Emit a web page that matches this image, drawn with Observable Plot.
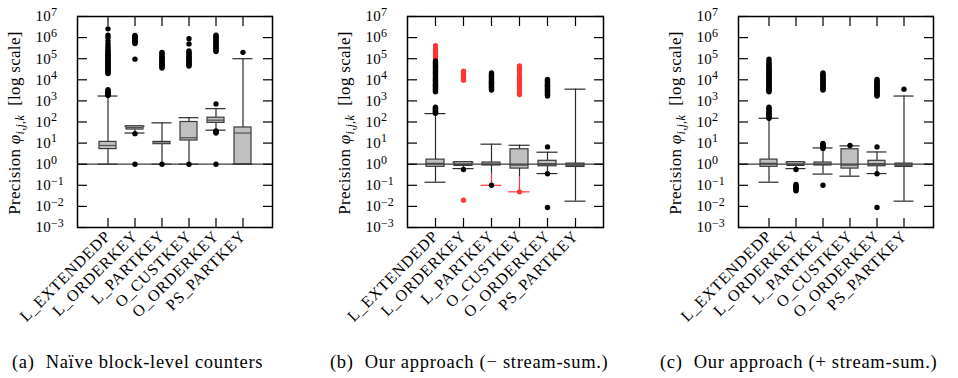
<!DOCTYPE html>
<html><head><meta charset="utf-8">
<script src="https://cdn.jsdelivr.net/npm/d3@7"></script>
<script src="https://cdn.jsdelivr.net/npm/@observablehq/plot@0.6"></script>
<style>
body{margin:0;background:#fff;}
#wrap{position:relative;width:958px;height:378px;overflow:hidden;font-family:"Liberation Serif","Times New Roman",serif;background:#fff;}
.panel{position:absolute;top:0;}
.cap{position:absolute;top:352px;font-size:18.5px;letter-spacing:0.7px;white-space:pre;line-height:20px;color:#000;}
svg g[aria-label="x-axis tick label"] text{letter-spacing:0.8px;}
svg g[aria-label="y-axis tick label"] text{letter-spacing:0.2px;}
</style></head><body><div id="wrap"></div>
<script>
const categories = ["L_EXTENDEDP","L_ORDERKEY","L_PARTKEY","O_CUSTKEY","O_ORDERKEY","PS_PARTKEY"];
const decadeExponents = [-3,-2,-1,0,1,2,3,4,5,6,7];
const captions = ["(a)", "Naïve block-level counters", "(b)", "Our approach (− stream-sum.)", "(c)", "Our approach (+ stream-sum.)"];

// (a) Naive block-level counters
const naiveLow    = [1, 30, 1, 1, 41, 1];
const naiveQ1     = [5.2, 44, 8.9, 13.3, 91, 1];
const naiveMedian = [7.7, 55, 10, 18, 122, 30];
const naiveQ3     = [11.4, 63, 11.4, 100, 160, 55];
const naiveHigh   = [1700, 63, 91, 160, 430, 100000];
const naiveOutliers = [
  [1800,1950,2100,2300,2500,2700,3000,3400,20000,22000,24000,27000,30000,34000,38000,43000,48000,54000,60000,68000,76000,85000,95000,110000,125000,140000,160000,185000,210000,250000,300000,380000,500000,700000,1000000,1300000,2600000],
  [1,28,95000,520000,580000,650000,720000,800000,880000,960000,1050000,1150000,1250000],
  [1,36000,40000,45000,50000,56000,63000,70000,80000,90000,100000,115000,130000,150000,175000,200000],
  [1,45000,50000,56000,63000,70000,80000,90000,100000,115000,130000,150000,175000,200000,230000,500000,880000],
  [1,30,33,36,38,720,220000,250000,290000,330000,380000,440000,500000,580000,670000,770000,880000,1000000,1150000,1300000],
  [200000]
];

// (b) Our approach (- stream-sum.)
const minusLow    = [0.14, 0.62, 0.36, 0.25, 0.36, 0.0177];
const minusRedLow = [null, null, 0.1, 0.049, null, null];
const minusQ1     = [0.75, 0.83, 0.87, 0.62, 0.8, 0.74];
const minusMedian = [1.1, 1.0, 1.0, 0.9, 1.05, 0.88];
const minusQ3     = [1.65, 1.25, 1.2, 5.1, 1.45, 1.07];
const minusHigh   = [250, 1.25, 8.9, 7.9, 3.7, 3600];
const minusOutliers = [
  [260,290,320,360,400,450,500,2700,3000,3400,3800,4300,4900,5500,6200,7000,8000,9000,10000,11500,13000,15000,17000,19500,22000,25000,29000,33000,38000,44000,50000,58000,67000,78000],
  [0.56],
  [0.1,3300,3700,4200,4700,5300,6000,6800,7600,8600,9700,11000,12500,14000,16000,18000,21000],
  [],
  [0.0089,0.35,6.6,1700,1900,2100,2400,2700,3000,3400,3800,4300,4900,5500,6200,7000,8000,9000,10500],
  []
];
const minusRedOutliers = [
  [100000,112000,125000,140000,160000,185000,215000,250000,300000,420000],
  [0.0197,9500,10500,11500,12500,14000,15500,17000,19000,21000,23500,26000],
  [],
  [0.049,2000,2300,2600,3000,3400,3900,4500,5200,6000,7000,8000,9300,11000,13000,18000,26000,35000,46000],
  [],
  []
];

// (c) Our approach (+ stream-sum.)
const plusLow    = [0.14, 0.62, 0.34, 0.27, 0.36, 0.0177];
const plusQ1     = [0.75, 0.83, 0.87, 0.62, 0.8, 0.74];
const plusMedian = [1.1, 1.0, 1.0, 0.9, 1.05, 0.88];
const plusQ3     = [1.65, 1.25, 1.2, 5.1, 1.45, 1.07];
const plusHigh   = [150, 1.25, 5.9, 7.4, 3.8, 1700];
const plusOutliers = [
  [150,170,190,215,245,280,320,370,430,500,2700,3000,3400,3800,4300,4900,5500,6200,7000,8000,9000,10000,11500,13000,15000,17000,19500,22000,25000,29000,33000,38000,44000,52000,62000,75000,95000],
  [0.055,0.062,0.07,0.078,0.087,0.097,0.11,0.56],
  [0.1,5.6,6.3,7.0,7.8,8.7,9.6,3300,3700,4200,4700,5300,6000,6800,7600,8600,9700,11000,12500,14000,16000,18000,21000],
  [7.7],
  [0.0089,0.35,6.6,1700,1900,2100,2400,2700,3000,3400,3800,4300,4900,5500,6200,7000,8000,9000,10500],
  [3600]
];

const FONT = '"Liberation Serif","Times New Roman",serif';
const INK = "#2a2a2a", RED = "#ff3535", BOXFILL = "#c0c0c0", BOXSTROKE = "#3a3a3a";

function makePanel(s, L) {
  const boxes = categories.map((c, i) => ({cat: c, low: s.low[i], q1: s.q1[i], med: s.med[i], q3: s.q3[i], high: s.high[i], redLow: s.redLow ? s.redLow[i] : null}));
  const reds = boxes.filter(d => d.redLow != null);
  const plain = boxes.filter(d => d.redLow == null);
  const black = [], red = [];
  categories.forEach((c, i) => s.out[i].forEach(v => black.push({cat: c, v})));
  if (s.redOut) categories.forEach((c, i) => s.redOut[i].forEach(v => red.push({cat: c, v})));
  const decades = decadeExponents.map(e => Math.pow(10, e));
  const svg = Plot.plot({
    width: L.width, height: 340,
    marginLeft: L.ml, marginRight: L.mr, marginTop: 16, marginBottom: 113,
    style: {fontFamily: FONT, fontSize: "15px", background: "white", color: "#000", overflow: "visible"},
    x: {type: "band", domain: categories, paddingInner: 0.372, paddingOuter: 0.686},
    y: {type: "log", domain: [1e-3, 1e7]},
    marks: [
      Plot.ruleX(boxes, {x: "cat", y1: "q3", y2: "high", stroke: INK, strokeWidth: 1.2}),
      Plot.ruleX(boxes, {x: "cat", y1: "q1", y2: "low", stroke: INK, strokeWidth: 1.2}),
      Plot.ruleX(reds, {x: "cat", y1: "low", y2: "redLow", stroke: RED, strokeWidth: 1.2}),
      Plot.tickY(boxes, {x: "cat", y: "high", stroke: INK, strokeWidth: 1.2, insetLeft: -1.5, insetRight: -1.5}),
      Plot.tickY(plain, {x: "cat", y: "low", stroke: INK, strokeWidth: 1.2, insetLeft: -1.5, insetRight: -1.5}),
      Plot.tickY(reds, {x: "cat", y: "redLow", stroke: RED, strokeWidth: 1.2, insetLeft: -1.5, insetRight: -1.5}),
      Plot.barY(boxes, {x: "cat", y1: "q1", y2: "q3", fill: BOXFILL, stroke: BOXSTROKE, strokeWidth: 1.2}),
      Plot.tickY(boxes, {x: "cat", y: "med", stroke: "#505050", strokeWidth: 1.2}),
      Plot.ruleY([1], {stroke: "#3a3a3a", strokeWidth: 1.3}),
      Plot.dot(red, {x: "cat", y: "v", r: 2.6, fill: RED, stroke: "none"}),
      Plot.dot(black, {x: "cat", y: "v", r: 2.7, fill: "#000", stroke: "none"}),
      Plot.frame({stroke: "#000", strokeWidth: 1.5}),
      Plot.axisY({anchor: "left", ticks: decades, tickSize: 10, dx: 10, fill: "none", stroke: "#000", strokeWidth: 1.2, label: null}),
      Plot.axisY({anchor: "right", ticks: decades, tickSize: 10, dx: -10, fill: "none", stroke: "#000", strokeWidth: 1.2, label: null}),
      Plot.axisY({anchor: "left", ticks: decades, tickSize: 0, tickPadding: 42, textAnchor: "start", fontSize: 15, fill: "#000", label: null,
                  tickFormat: d => "10^" + Math.round(Math.log10(d))}),
      Plot.axisX({anchor: "bottom", tickSize: 9, dy: -9, fill: "none", stroke: "#000", strokeWidth: 1.2, label: null}),
      Plot.axisX({anchor: "top", tickSize: 9, dy: 9, fill: "none", stroke: "#000", strokeWidth: 1.2, label: null}),
      Plot.axisX({anchor: "bottom", tickSize: 0, tickPadding: 6, tickRotate: -45, textAnchor: "end", fontSize: 16, fill: "#000", label: null})
    ]
  });
  const sel = d3.select(svg);
  sel.selectAll('g[aria-label="y-axis tick label"] text').each(function () {
    const parts = this.textContent.split("^");
    const e = parts[1].replace("-", "−");
    this.textContent = "10";
    d3.select(this).append("tspan").attr("dy", -5.5).attr("font-size", "0.8em").text(e);
  });
  const t = sel.append("text")
    .attr("transform", `translate(${L.ml - 57},123) rotate(-90)`)
    .attr("text-anchor", "middle").attr("font-size", 17).attr("font-family", FONT)
    .attr("fill", "#000").style("white-space", "pre").style("letter-spacing", "0.3px");
  t.append("tspan").text("Precision ");
  t.append("tspan").attr("font-style", "italic").text("φ");
  t.append("tspan").attr("font-style", "italic").attr("font-size", 12).attr("dy", 4).text("i,j,k");
  t.append("tspan").attr("dy", -4).text("  [log scale]");
  return svg;
}

const panels = [
  {s: {low: naiveLow, q1: naiveQ1, med: naiveMedian, q3: naiveQ3, high: naiveHigh, out: naiveOutliers},
   L: {left: 0, width: 320, ml: 77, mr: 48}, capLeft: 12},
  {s: {low: minusLow, redLow: minusRedLow, q1: minusQ1, med: minusMedian, q3: minusQ3, high: minusHigh, out: minusOutliers, redOut: minusRedOutliers},
   L: {left: 320, width: 320, ml: 87, mr: 37}, capLeft: 330},
  {s: {low: plusLow, q1: plusQ1, med: plusMedian, q3: plusQ3, high: plusHigh, out: plusOutliers},
   L: {left: 640, width: 318, ml: 98, mr: 25}, capLeft: 660}
];

const wrap = document.getElementById("wrap");
panels.forEach((p, i) => {
  const div = document.createElement("div");
  div.className = "panel";
  div.style.left = p.L.left + "px";
  div.appendChild(makePanel(p.s, p.L));
  wrap.appendChild(div);
  const cap = document.createElement("div");
  cap.className = "cap";
  cap.style.left = p.capLeft + "px";
  const a = document.createElement("span");
  a.textContent = captions[2 * i];
  a.style.marginRight = "11px";
  const b = document.createElement("span");
  b.textContent = captions[2 * i + 1];
  cap.appendChild(a); cap.appendChild(b);
  wrap.appendChild(cap);
});
</script>
</body></html>
